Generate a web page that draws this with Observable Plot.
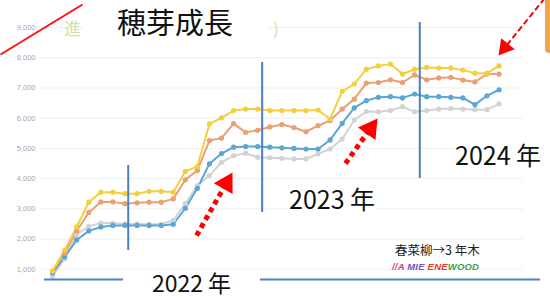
<!DOCTYPE html>
<html><head><meta charset="utf-8">
<script src="https://cdn.jsdelivr.net/npm/d3@7"></script>
<script src="https://cdn.jsdelivr.net/npm/@observablehq/plot@0.6"></script>
<style>
html,body{margin:0;padding:0;background:#fff;overflow:hidden}
#wrap{position:relative;width:550px;height:299px;font-family:"Noto Sans CJK JP","Noto Sans",sans-serif}
#wrap svg{display:block}
.ov{position:absolute;white-space:nowrap;line-height:1;color:#111}
</style></head><body><div id="wrap"><div id="chart"></div></div>
<script>
// ---- data ----
const step = d3.range(38); // measurement index
const yellow = [950,1630,2400,3220,3550,3550,3500,3500,3580,3580,3550,4240,4400,5810,6010,6250,6300,6300,6250,6250,6250,6250,6270,5970,6890,7130,7620,7730,7790,7460,7620,7680,7660,7660,7590,7490,7490,7730];
const orange = [930,1530,2270,2880,3230,3230,3170,3200,3220,3220,3330,3960,4270,5260,5340,5820,5530,5600,5710,5790,5690,5550,5750,5920,6300,6630,7160,7180,7270,7180,7430,7270,7330,7350,7260,7200,7460,7460];
const blue   = [880,1410,1970,2270,2400,2450,2450,2450,2450,2450,2490,3020,3680,4490,4830,5040,5060,5060,5040,5020,5000,4980,4980,5280,5830,6340,6580,6690,6710,6670,6800,6710,6710,6690,6670,6450,6740,6940];
const gray   = [770,1350,2150,2420,2530,2530,2500,2500,2490,2490,2620,3170,3770,4100,4540,4760,4840,4710,4690,4670,4650,4650,4820,4980,5310,5940,6220,6210,6250,6380,6210,6250,6300,6320,6300,6280,6280,6470];
const yTicks = [1000,2000,3000,4000,5000,6000,7000,8000,9000];
const seriesNames = ["gray","blue","orange","yellow"];
const seriesValues = [gray, blue, orange, yellow];

// annotations (data units)
const yearRules = [{x:6.27,y1:1621,y2:4434},{x:17.37,y1:2879,y2:7842},{x:30.43,y1:4004,y2:9165}];
const baseRule = [{y:662,x1:-0.67,x2:40.43}];
const slash = [{x1:-4.31,y1:8107,x2:2.48,y2:9761}];
const dotArrows = [{x1:11.93,y1:2118,x2:14.91,y2:4202},{x1:24.27,y1:4500,x2:26.93,y2:5989}];
const dashArrows = [{x1:40.77,y1:9960,x2:36.95,y2:8074}];

// ---- build ----
const colors = {yellow:"#f3cf3f",orange:"#eb9f74",blue:"#5aa6d6",gray:"#d3d3d3"};
const table = seriesNames.flatMap((s,k)=>step.map(i=>({series:s,i,v:seriesValues[k][i]})));
const W=550,H=299,mL=40,mR=27.3,mT=27,mB=0;
const xs=d3.scaleLinear([-1,39],[mL,W-mR]), ys=d3.scaleLinear([0,9000],[H-mB,mT]);
function heads(arr, r){
  const h = Math.sqrt(4*Math.PI*r*r/Math.sqrt(3))*Math.sqrt(3)/2; // triangle height
  return arr.map(a=>{
    const dx=xs(a.x2)-xs(a.x1), dy=ys(a.y2)-ys(a.y1), L=Math.hypot(dx,dy);
    const f=(2*h/3)/L;
    return {...a, hx:a.x2+(a.x1-a.x2)*f, hy:a.y2+(a.y1-a.y2)*f, bx:a.x2+(a.x1-a.x2)*f*1.3, by:a.y2+(a.y1-a.y2)*f*1.3,
      angle: Math.atan2(dx,-dy)*180/Math.PI};
  });
}
const dA=heads(dotArrows,8), sA=heads(dashArrows,6.5);

const plot = Plot.plot({
  width:W,height:H,marginLeft:mL,marginRight:mR,marginTop:mT,marginBottom:mB,
  x:{domain:[-1,39],axis:null},
  y:{domain:[0,9000],axis:null},
  style:{background:"transparent",overflow:"visible"},
  marks:[
    Plot.gridY(yTicks,{stroke:"#e6e6e6",strokeOpacity:0.6}),
    Plot.axisY(yTicks,{tickSize:0,tickPadding:5,tickFormat:d3.format(","),fontSize:7.5,color:"#a8a8a8",fontFamily:"Liberation Sans, Arial, sans-serif"}),
    ...seriesNames.map(s=>Plot.line(table.filter(d=>d.series===s),{x:"i",y:"v",stroke:colors[s],strokeWidth:2})),
    ...seriesNames.map(s=>Plot.dot(table.filter(d=>d.series===s),{x:"i",y:"v",fill:colors[s],r:2.6})),
    Plot.ruleX(yearRules,{x:"x",y1:"y1",y2:"y2",stroke:"#4a7fc3",strokeWidth:2}),
    Plot.ruleY(baseRule,{y:"y",x1:"x1",x2:"x2",stroke:"#4a84c8",strokeWidth:2}),
    Plot.link(slash,{x1:"x1",y1:"y1",x2:"x2",y2:"y2",stroke:"#ff1010",strokeWidth:2}),
    Plot.link(dA,{x1:"x1",y1:"y1",x2:"bx",y2:"by",stroke:"#ff0000",strokeWidth:5,strokeDasharray:"5,4"}),
    Plot.dot(dA,{x:"hx",y:"hy",symbol:"triangle",r:8,rotate:"angle",fill:"#ff0000"}),
    Plot.link(sA,{x1:"x1",y1:"y1",x2:"bx",y2:"by",stroke:"#ff0000",strokeWidth:2,strokeDasharray:"6,3"}),
    Plot.dot(sA,{x:"hx",y:"hy",symbol:"triangle",r:6.5,rotate:"angle",fill:"#ff0000"})
  ]
});
document.getElementById("chart").appendChild(plot);

// ---- overlay texts ----
const wrap=document.getElementById("wrap");
function ov(html, css){const d=document.createElement("div");d.className="ov";d.innerHTML=html;Object.assign(d.style,css);wrap.appendChild(d);return d;}
ov("進",{left:"64px",top:"19px",fontSize:"17px",color:"#cfe5a6"});
ov(")",{left:"273px",top:"19px",fontSize:"17px",color:"#cfe5a6"});
ov("穂芽成長",{left:"83px",top:"0px",width:"185px",height:"44px",background:"#fff",fontSize:"29px",lineHeight:"42px",paddingLeft:"34px",boxSizing:"border-box",color:"#111"});
ov("",{left:"123px",top:"271px",width:"137px",height:"28px",background:"#fff"});
ov("2022 年",{left:"123px",top:"271px",width:"137px",fontSize:"23px",lineHeight:"23px",textAlign:"center"});
ov("2023 年",{left:"289px",top:"184px",fontSize:"25px",lineHeight:"28px",background:"#fff"});
ov("2024 年",{left:"455px",top:"140px",fontSize:"25px",lineHeight:"28px",background:"#fff"});
ov("春菜柳→3 年木",{left:"395px",top:"244px",fontSize:"12.5px",color:"#222"});
ov('<span style="color:#e8405a">//</span><span style="color:#c03a8a">A</span> <span style="color:#7a4fc8">MIE</span> <span style="color:#e03a2a">ENE</span><span style="color:#3aa04a">WOOD</span>',
   {left:"392px",top:"262px",fontSize:"9.5px",fontWeight:"bold",fontStyle:"italic",fontFamily:"Liberation Sans, Arial, sans-serif",letterSpacing:"0.2px"});
ov("",{left:"545px",top:"0px",width:"8px",height:"53px",background:"#f5a24e",borderRadius:"0 0 0 4px"});
</script>
</body></html>
